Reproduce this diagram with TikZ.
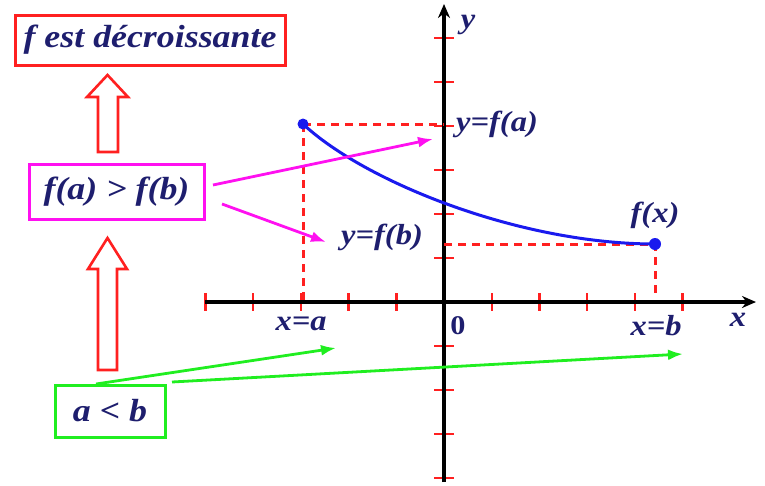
\documentclass[tikz,border=0pt]{standalone}
\usepackage{fontspec}
\setmainfont{Liberation Serif}[FakeStretch=1.12]
\usetikzlibrary{arrows.meta}
\definecolor{navy}{HTML}{1E1E6E}
\definecolor{myred}{HTML}{FF2020}
\definecolor{mymag}{HTML}{FF10F0}
\definecolor{mygreen}{HTML}{20EE20}
\definecolor{myblue}{HTML}{1A1AEE}
\tikzset{
  lbl/.style={text=navy,font=\fontsize{32}{36}\selectfont\bfseries\itshape,inner sep=0pt},
  albl/.style={text=navy,font=\fontsize{29}{32}\selectfont\bfseries\itshape,inner sep=0pt},
  labbox/.style={draw,line width=3pt,inner sep=0pt,fill=white},
  axisline/.style={line width=3.4pt,black,-{Stealth[length=14pt,width=12pt]}},
  tickline/.style={myred,line width=2.4pt},
  dashline/.style={myred,line width=3pt,dash pattern=on 8pt off 6pt},
  hollow/.style={draw=myred,line width=2.6pt,fill=white},
  magarrow/.style={mymag,line width=2.8pt,-{Latex[length=15pt,width=11pt]}},
  grnarrow/.style={mygreen,line width=2.8pt,-{Latex[length=15pt,width=11pt]}},
}
\begin{document}
\begin{tikzpicture}[x=1pt,y=-1pt]
\useasboundingbox (0,0) rectangle (765,485);
% ticks
\foreach \i in {-5,-4,-3,-2,-1,1,2,3,4,5}
  \draw[tickline] (444+47.7*\i,293) -- ++(0,18);
\foreach \j in {-4,...,6}
  \draw[tickline] (434,302-44*\j) -- ++(20,0);
% axes
\coordinate (xs) at (205,302);
\coordinate (xe) at (756,302);
\coordinate (ys) at (444,482);
\coordinate (ye) at (444,4);
\draw[axisline] (xs) -- (xe);
\draw[axisline] (ys) -- (ye);
% points
\coordinate (A) at (303,124);
\coordinate (B) at (655,244);
\coordinate (Ay) at (444,124);
\coordinate (Ax) at (303,302);
\coordinate (By) at (444,244);
\coordinate (Bx) at (655,298);
\draw[dashline] (A) -- (Ay);
\draw[dashline] (A) -- (Ax);
\draw[dashline] (By) -- (B) -- (Bx);
\draw[myblue,line width=3pt] (A) .. controls (365,182) and (520,244) .. (B);
\fill[myblue] (A) circle (5.5);
\fill[myblue] (B) circle (6);
% axis labels
\node[albl] (ylab) at (468,25) {y};
\node[albl] (xlab) at (738,320) {x};
\node[albl,font=\fontsize{27}{30}\selectfont\bfseries] (zero) at (458,326) {0};
\node[albl] (xa) at (301,324) {x=a};
\node[albl] (xb) at (656,326) {x=b};
\node[albl] (yfa) at (497,124) {y=f(a)};
\node[albl] (yfb) at (382,237) {y=f(b)};
\node[albl] (fx) at (655,215) {f(x)};
% boxes
\node[labbox,draw=myred,minimum width=270pt,minimum height=50pt] (dec) at (150,40) {};
\node[lbl] at (dec) {f est décroissante};
\node[labbox,draw=mymag,minimum width=175pt,minimum height=55pt] (ineq) at (116.5,191.5) {};
\node[lbl] at (ineq) {f(a) > f(b)};
\node[labbox,draw=mygreen,minimum width=110pt,minimum height=52pt] (ab) at (110,411) {};
\node[lbl] at (ab) {a < b};
% hollow arrows
\draw[hollow] (98,152) -- (98,97) -- (87,97) -- (107.5,75) -- (128,97) -- (118,97) -- (118,152) -- cycle;
\draw[hollow] (98,370) -- (98,269) -- (88,269) -- (107.5,238) -- (127,269) -- (117,269) -- (117,370) -- cycle;
% magenta arrows
\coordinate (m1s) at (213,185);
\coordinate (m1e) at (433,139);
\coordinate (m2s) at (222,204);
\coordinate (m2e) at (326,242);
\draw[magarrow] (m1s) -- (m1e);
\draw[magarrow] (m2s) -- (m2e);
% green arrows
\coordinate (g1s) at (96,384);
\coordinate (g1e) at (336,348);
\coordinate (g2s) at (172,382);
\coordinate (g2e) at (683,354);
\draw[grnarrow] (g1s) -- (g1e);
\draw[grnarrow] (g2s) -- (g2e);
\end{tikzpicture}
\end{document}
